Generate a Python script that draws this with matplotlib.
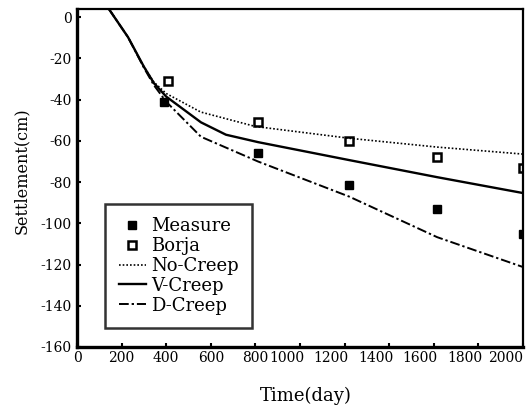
import matplotlib.pyplot as plt
import matplotlib.transforms as mtransforms
import numpy as np

plt.rcParams['font.family'] = ['DejaVu Serif']
plt.rcParams['axes.unicode_minus'] = False

# measured / Borja points
t_meas = [390, 810, 1220, 1615, 2000]
s_meas = [-41, -66, -81.5, -93, -105]
t_borja = [408, 812, 1220, 1615, 2000]
s_borja = [-31, -51, -60, -68, -73]

# model curves
t_nc = [143, 229, 300, 345, 400, 555, 800, 1220, 1615, 2000]
s_nc = [4, -9.7, -24, -31.5, -37, -46, -53, -58.7, -63, -66.4]
t_vc = [143, 229, 300, 345, 400, 556, 668, 812, 1220, 1615, 2000]
s_vc = [4, -9.7, -24, -32, -38.5, -51, -57, -60.6, -69.3, -77.6, -85.3]
t_dc = [143, 229, 300, 345, 400, 556, 812, 1220, 1615, 2000]
s_dc = [4, -9.7, -24.5, -33, -41, -58, -70, -87, -106.7, -121.2]

xticks = np.arange(0, 2001, 200)
yticks = np.arange(-160, 1, 20)

fig = plt.figure(figsize=(5.26, 4.07), dpi=100)
ax = fig.add_axes([77/526, 1-347/407, (523-77)/526, (347-9)/407])

ax.plot(t_meas, s_meas, 's', color='black', ms=6, label='Measure')
ax.plot(t_borja, s_borja, 's', mfc='white', mec='black', mew=1.8, ms=6, label='Borja')
ax.plot(t_nc, s_nc, color='black', lw=1.2, dashes=(1.0, 1.2), label='No-Creep')
ax.plot(t_vc, s_vc, '-', color='black', lw=1.7, label='V-Creep')
ax.plot(t_dc, s_dc, color='black', lw=1.4, dashes=(5, 1.5, 1.2, 1.5), label='D-Creep')

ax.set_xlim(0, 2000)
ax.set_ylim(-160, 4)
ax.set_xticks(xticks)
ax.set_xticklabels([str(v) for v in xticks])
ax.set_yticks(yticks)
ax.tick_params(direction='in', length=3, labelsize=10, width=1.5)
ax.tick_params(axis='x', pad=3)
ax.tick_params(axis='y', pad=4)

# four-digit labels sit left of their ticks as in the original
for lbl, v in zip(ax.get_xticklabels(), xticks):
    if v >= 1000:
        dx = 0 if v == 2000 else 4
        lbl.set_ha('right')
        lbl.set_transform(lbl.get_transform() +
                          mtransforms.ScaledTranslation(dx/100, 0, fig.dpi_scale_trans))

for s in ['left', 'bottom']:
    ax.spines[s].set_linewidth(2.4)
for s in ['top', 'right']:
    ax.spines[s].set_linewidth(1.6)

ax.set_xlabel('Time(day)', fontsize=13)
ax.xaxis.set_label_coords(0.513, -0.118)
ax.xaxis.label.set_va('top')
ax.set_ylabel('Settlement(cm)', fontsize=11.5)
ax.yaxis.set_label_coords(-0.105, 0.521)

leg = ax.legend(loc='lower left', bbox_to_anchor=(0.063, 0.056), borderaxespad=0,
                fontsize=13, frameon=True, fancybox=False, edgecolor='black',
                handlelength=1.5, handletextpad=0.3, borderpad=0.75,
                labelspacing=0.1)
leg.get_frame().set_linewidth(1.8)

fig.savefig('out.png', dpi=100)
